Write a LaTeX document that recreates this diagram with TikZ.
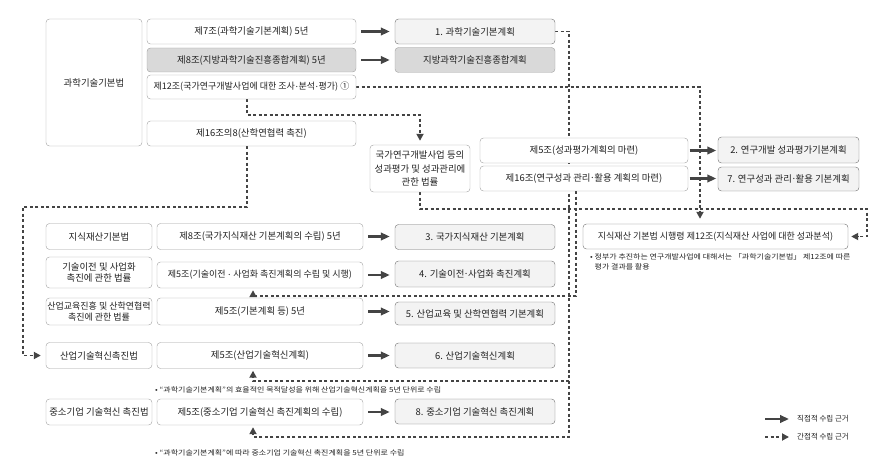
\documentclass[tikz,border=0pt]{standalone}
\usepackage{fontspec}
\setmainfont{Noto Sans CJK KR}
\newfontfamily\notefont[FakeStretch=1.14]{Noto Sans CJK KR}
\newcommand{\md}{\kern.06em\raisebox{.3em}{.}\kern.06em}
\usetikzlibrary{arrows.meta,backgrounds}
\definecolor{txt}{HTML}{222222}
\definecolor{edge}{HTML}{A0A0A0}
\definecolor{planedge}{HTML}{707070}
\definecolor{planfill}{HTML}{F3F3F3}
\definecolor{grayfill}{HTML}{D9D9D9}
\definecolor{lnk}{HTML}{444444}

\begin{document}
\begin{tikzpicture}[x=1pt,y=-1pt,
    box/.style={draw=edge,fill=white,rounded corners=3.5pt,text=txt,font=\fontsize{9.4}{11}\selectfont,align=center,inner sep=0pt},
    law/.style={box,minimum width=106pt,minimum height=26pt},
    art/.style={box,minimum width=206pt,minimum height=26pt},
    plan/.style={box,draw=planedge,fill=planfill,minimum width=160pt,minimum height=25pt},
    grayed/.style={fill=grayfill},
    tight/.style={font=\fontsize{9}{11}\selectfont},
    direct/.style={draw=lnk,line width=2.5pt,-{Triangle[length=9pt,width=7.5pt]},shorten <=5pt,shorten >=5pt},
    indirect/.style={draw=lnk,line width=1.8pt,dash pattern=on 3pt off 2.5pt,-{Triangle[length=7pt,width=7pt]}},
    note/.style={text=txt,font=\notefont\fontsize{7}{10}\selectfont,anchor=west,inner sep=0pt,align=left}]
    \useasboundingbox (0,0) rectangle (891,465);

    \node[box,minimum width=96pt,minimum height=127pt] (sci) at (94,82.5) {과학기술기본법};
    \node[art,minimum width=209pt,minimum height=25pt] (s7) at (251.5,31.5) {제7조(과학기술기본계획) 5년};
    \node[art,grayed,minimum width=209pt,minimum height=24pt] (s8) at (251.5,60) {제8조(지방과학기술진흥종합계획) 5년};
    \node[art,tight,minimum width=209pt,minimum height=24pt] (s12) at (251.5,87) {제12조(국가연구개발사업에 대한 조사\md 분석\md 평가) ①};
    \node[art,minimum width=209pt,minimum height=25pt] (s16) at (251.5,133.5) {제16조의8(산학연협력 촉진)};
    \node[plan] (p1) at (475,31.5) {1. 과학기술기본계획};
    \node[plan,grayed,draw=edge] (pl) at (475,60) {지방과학기술진흥종합계획};

    \node[box,font=\fontsize{9.4}{13.5}\selectfont,minimum width=100pt,minimum height=47pt] (rnd) at (420,168.5) {국가연구개발사업 등의\\성과평가 및 성과관리에\\관한 법률};
    \node[art,minimum width=208pt,minimum height=25pt] (b5) at (584,150.5) {제5조(성과평가계획의 마련)};
    \node[art,minimum width=208pt,minimum height=25pt] (b16) at (584,178.5) {제16조(연구성과 관리\md 활용 계획의 마련)};
    \node[plan,minimum width=141pt,minimum height=26pt] (p2) at (788.5,150) {2. 연구개발 성과평가기본계획};
    \node[plan,minimum width=141pt,minimum height=24pt] (p7) at (788.5,179) {7. 연구성과 관리\md 활용 기본계획};
    \node[box,tight,draw=planedge,minimum width=265pt,minimum height=25pt] (ip) at (715.5,236.5) {지식재산 기본법 시행령 제12조(지식재산 사업에 대한 성과분석)};
    \node[note] (nip) at (590,262) {• 정부가 추진하는 연구개발사업에 대해서는 「과학기술기본법」 제12조에 따른\\\phantom{• }평가 결과를 활용};

    \node[law] (l3) at (99,236.5) {지식재산기본법};
    \node[art] (a3) at (260,236.5) {제8조(국가지식재산 기본계획의 수립) 5년};
    \node[plan] (p3) at (475,237) {3. 국가지식재산 기본계획};
    \node[law,minimum height=31pt] (l4) at (99,272.5) {기술이전 및 사업화\\촉진에 관한 법률};
    \node[art,tight] (a4) at (260,275) {제5조(기술이전 \md\ 사업화 촉진계획의 수립 및 시행)};
    \node[plan,minimum height=26pt] (p4) at (475,274) {4. 기술이전\md 사업화 촉진계획};
    \node[law,tight,minimum height=27pt] (l5) at (99,311.5) {산업교육진흥 및 산학연협력\\촉진에 관한 법률};
    \node[art,minimum height=27pt] (a5) at (260,311.5) {제5조(기본계획 등) 5년};
    \node[plan,minimum height=23pt] (p5) at (475,313.5) {5. 산업교육 및 산학연협력 기본계획};
    \node[law] (l6) at (99,355.5) {산업기술혁신촉진법};
    \node[art] (a6) at (260,355.5) {제5조(산업기술혁신계획)};
    \node[plan] (p6) at (475,355.5) {6. 산업기술혁신계획};
    \node[note] (n6) at (155,390) {• “과학기술기본계획”의 효율적인 목적달성을 위해 산업기술혁신계획을 5년 단위로 수립};
    \node[law] (l8) at (99,412) {중소기업 기술혁신 촉진법};
    \node[art] (a8) at (260,412) {제5조(중소기업 기술혁신 촉진계획의 수립)};
    \node[plan] (p8) at (475,411.5) {8. 중소기업 기술혁신 촉진계획};
    \node[note] (n8) at (155,453) {• “과학기술기본계획”에 따라 중소기업 기술혁신 촉진계획을 5년 단위로 수립};

    \foreach \a/\p in {s7/p1,s8/pl,a3/p3,a4/p4,a5/p5,a6/p6,a8/p8}
        \draw[direct] (\a.east) -- (\a.east -| \p.west);
    \draw[direct,shorten <=1.5pt,shorten >=1.5pt] (b5.east) -- (b5.east -| p2.west);
    \draw[direct,shorten <=1.5pt,shorten >=1.5pt] (b16.east) -- (b16.east -| p7.west);

    \coordinate (up) at (253,0);
    \coordinate (vA) at (569,437);
    \coordinate (jA) at (569,381);
    \coordinate (vB) at (576,296);
    \coordinate (vC) at (700,87);
    \coordinate (hD) at (247,115);
    \coordinate (hE) at (247,207);
    \coordinate (vE) at (23,207);
    \coordinate (vF) at (867,209);
    \begin{scope}[on background layer]
        \draw[indirect,shorten >=2pt] (p1.east) -| (vA) -- (vA -| up) -- (a8.south -| up);
        \draw[indirect,shorten >=2pt] (jA) -- (jA -| up) -- (a6.south -| up);
        \draw[indirect,shorten >=2pt] (b16.south -| vB) -- (vB) -- (vB -| up) -- (a4.south -| up);
        \draw[indirect,shorten >=5pt] (s12.east) -- (vC) -- (ip.north -| vC);
        \draw[indirect,shorten >=4pt] (s12.south -| hD) -- (hD) -| (rnd.north);
        \draw[indirect,shorten >=5pt] (s16.south -| hE) -- (hE) -- (vE) |- (l6.west);
        \draw[indirect,shorten >=3pt] (rnd.south) |- (vF) |- (ip.east);
    \end{scope}

    \node[text=txt,font=\fontsize{7.5}{9}\selectfont,anchor=west,inner sep=0pt] (lg1) at (797,419) {직접적 수립 근거};
    \node[text=txt,font=\fontsize{7.5}{9}\selectfont,anchor=west,inner sep=0pt] (lg2) at (797,437) {간접적 수립 근거};
    \coordinate (g1) at (765,419);
    \coordinate (g2) at (765,437);
    \draw[direct,shorten <=0pt,shorten >=8pt] (g1) -- (lg1.west);
    \draw[indirect,shorten >=8pt] (g2) -- (lg2.west);
\end{tikzpicture}
\end{document}
